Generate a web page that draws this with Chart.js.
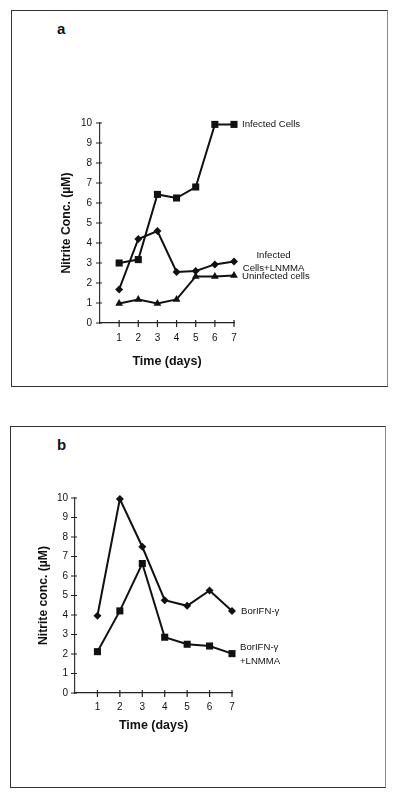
<!DOCTYPE html>
<html>
<head>
<meta charset="utf-8">
<script src="https://cdn.jsdelivr.net/npm/chart.js@4.4.1/dist/chart.umd.min.js"></script>
<style>
  html, body { margin: 0; padding: 0; background: #fff; }
  body { width: 400px; height: 794px; position: relative; overflow: hidden; font-family: "Liberation Sans", Arial, Helvetica, sans-serif; }
  .frame { position: absolute; border: 1px solid #333; border-right-color: #888; box-sizing: border-box; }
  .letter { position: absolute; font-weight: bold; font-size: 15px; color: #111; }
  canvas { position: absolute; left: 0; }
</style>
</head>
<body>
<div class="frame" style="left:11px; top:10px; width:377px; height:377px;"></div>
<div class="frame" style="left:10px; top:426px; width:376px; height:362px;"></div>
<div class="letter" style="left:57px; top:20px;">a</div>
<div class="letter" style="left:57px; top:436px;">b</div>
<canvas id="chartA" style="top:0" width="400" height="400"></canvas>
<canvas id="chartB" style="top:400px" width="400" height="394"></canvas>
<script>
// days on the x axis
const days = [1, 2, 3, 4, 5, 6, 7];
const yTicks = [0, 1, 2, 3, 4, 5, 6, 7, 8, 9, 10];

// panel a
const infectedCells = [3.0, 3.17, 6.43, 6.25, 6.8, 9.93, 9.93];
const infectedLnmma = [1.68, 4.2, 4.6, 2.55, 2.6, 2.93, 3.07];
const uninfectedCells = [0.98, 1.18, 0.98, 1.18, 2.33, 2.33, 2.37];

// panel b
const borIfn = [3.96, 9.95, 7.5, 4.76, 4.47, 5.26, 4.2];
const borIfnLnmma = [2.12, 4.21, 6.64, 2.86, 2.5, 2.41, 2.02];

const FONT = '"Liberation Sans", Arial, Helvetica, sans-serif';
const INK = '#111';

function pts(values) {
    return days.map((d, i) => ({ x: d, y: values[i] }));
}

function series(values, style, radius, tag) {
    return {
        data: pts(values),
        borderColor: INK,
        borderWidth: 2,
        backgroundColor: INK,
        pointStyle: style,
        pointRadius: radius,
        pointHoverRadius: radius,
        pointBackgroundColor: INK,
        pointBorderWidth: 0,
        tension: 0,
        clip: false,
        tag: tag
    };
}

// tick marks crossing the axes, and the series names next to the last points
const decorPlugin = {
    id: 'decor',
    afterDatasetsDraw(chart) {
        const ctx = chart.ctx;
        const xs = chart.scales.x, ys = chart.scales.y;
        const area = chart.chartArea;
        ctx.save();
        ctx.strokeStyle = '#222';
        ctx.lineWidth = 1.2;
        ctx.beginPath();
        days.forEach(d => {
            const px = xs.getPixelForValue(d);
            ctx.moveTo(px, area.bottom - 3);
            ctx.lineTo(px, area.bottom + 4);
        });
        yTicks.forEach(v => {
            const py = ys.getPixelForValue(v);
            ctx.moveTo(area.left - 4, py);
            ctx.lineTo(area.left + 2, py);
        });
        ctx.stroke();

        ctx.fillStyle = INK;
        ctx.font = '9.6px ' + FONT;
        ctx.textBaseline = 'middle';
        chart.data.datasets.forEach((ds, i) => {
            const tag = ds.tag;
            if (!tag) return;
            const meta = chart.getDatasetMeta(i);
            const last = meta.data[meta.data.length - 1];
            ctx.textAlign = tag.align || 'left';
            tag.lines.forEach((line, k) => {
                ctx.fillText(line, last.x + tag.dx, last.y + tag.dy + k * tag.lh);
            });
        });
        ctx.restore();
    }
};

function makeChart(id, datasets, yTitle, L) {
    new Chart(document.getElementById(id).getContext('2d'), {
        type: 'line',
        data: { datasets: datasets },
        options: {
            responsive: false,
            animation: false,
            events: [],
            layout: { padding: { left: 0, right: L.right, top: L.top, bottom: L.bottom } },
            scales: {
                x: {
                    type: 'linear',
                    min: 0,
                    max: 7,
                    grid: { display: false, drawTicks: false },
                    border: { display: true, color: '#222', width: 1.2 },
                    ticks: {
                        stepSize: 1,
                        padding: L.xPad,
                        color: INK,
                        font: { family: FONT, size: 10 },
                        callback: v => (v === 0 ? '' : v)
                    },
                    title: {
                        display: true,
                        text: 'Time (days)',
                        color: INK,
                        font: { family: FONT, size: 12.5, weight: 'bold' },
                        padding: { top: 0, bottom: L.xTitlePad }
                    },
                    afterFit: s => { s.height = 60; }
                },
                y: {
                    min: 0,
                    max: 10,
                    grid: { display: false, drawTicks: false },
                    border: { display: true, color: '#333', width: 1.2 },
                    ticks: {
                        stepSize: 1,
                        padding: L.yPad,
                        color: INK,
                        font: { family: FONT, size: 10 }
                    },
                    title: {
                        display: true,
                        text: yTitle,
                        color: INK,
                        font: { family: FONT, size: 12.2, weight: 'bold' },
                        padding: { top: L.yTitlePad, bottom: 0 }
                    },
                    afterFit: s => { s.width = L.left; }
                }
            },
            plugins: {
                legend: { display: false },
                tooltip: { enabled: false }
            }
        },
        plugins: [decorPlugin]
    });
}

makeChart('chartA', [
    series(infectedCells, 'rect', 5, { lines: ['Infected Cells'], dx: 8, dy: 0, lh: 0 }),
    series(infectedLnmma, 'rectRot', 4, { lines: ['Infected', 'Cells+LNMMA'], dx: 39.5, dy: -6.6, lh: 13, align: 'center' }),
    series(uninfectedCells, 'triangle', 4.5, { lines: ['Uninfected cells'], dx: 8, dy: 0.5, lh: 0 })
], 'Nitrite Conc. (\u00b5M)', { left: 100, right: 166, top: 123, bottom: 17, xPad: 9, yPad: 8, yTitlePad: 59, xTitlePad: 14 });

makeChart('chartB', [
    series(borIfn, 'rectRot', 4, { lines: ['BorIFN-\u03b3'], dx: 9, dy: 0.5, lh: 0 }),
    series(borIfnLnmma, 'rect', 5, { lines: ['BorIFN-\u03b3', '+LNMMA'], dx: 8, dy: -6.4, lh: 14 })
], 'Nitrite conc. (\u00b5M)', { left: 75, right: 168, top: 98, bottom: 41, xPad: 8, yPad: 7, yTitlePad: 36, xTitlePad: 20 });
</script>
</body>
</html>
